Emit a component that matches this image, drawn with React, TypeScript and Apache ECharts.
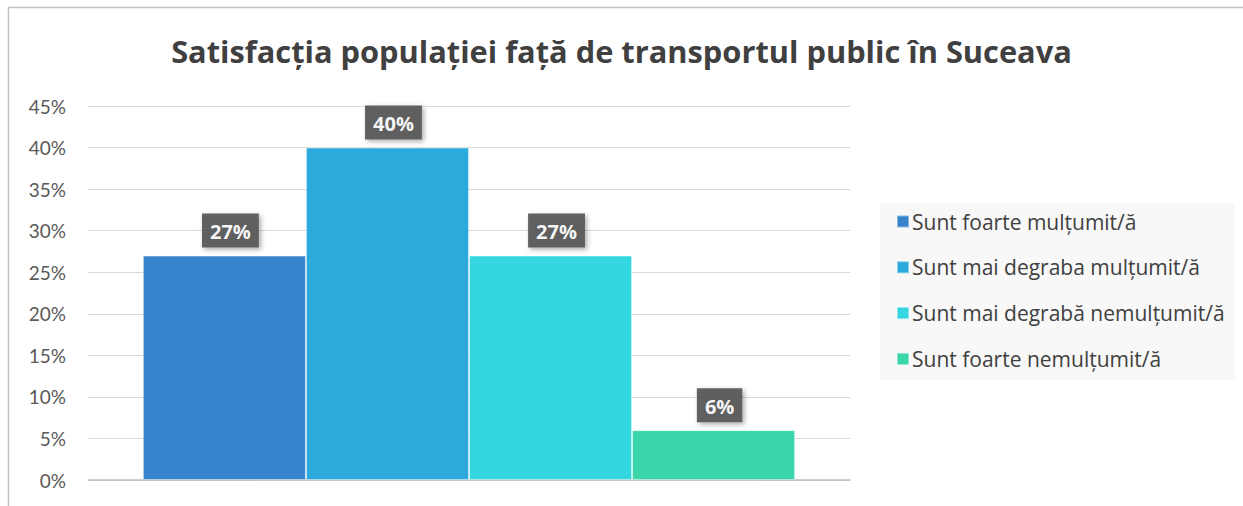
import React, { useEffect, useRef } from "react";
import * as echarts from "echarts";

const categories = ["Satisfacția"];
const seriesNames = [
  "Sunt foarte mulțumit/ă",
  "Sunt mai degraba mulțumit/ă",
  "Sunt mai degrabă nemulțumit/ă",
  "Sunt foarte nemulțumit/ă",
];
const seriesValues = [27, 40, 27, 6];
const seriesColors = ["#2a7cc9", "#1fa5da", "#27d4de", "#2ed3a4"];
const yTicks = { min: 0, max: 45, interval: 5 };

const FONT = "Lato, 'Open Sans', sans-serif";
const FONT2 = "'Open Sans', sans-serif";

export default function App() {
  const ref = useRef<HTMLDivElement>(null);
  useEffect(() => {
    document.body.style.margin = "0";
    const chart = echarts.init(ref.current!, null, { renderer: "svg" });
    chart.setOption({
      animation: false,
      backgroundColor: "#ffffff",
      textStyle: { fontFamily: FONT },
      title: {
        text: "Satisfacția populației față de transportul public în Suceava",
        left: "center",
        top: 30,
        textStyle: { fontSize: 30.8, fontWeight: "bold", color: "#404040", fontFamily: FONT2 },
      },
      graphic: [
        {
          type: "polyline",
          shape: { points: [[8.5, 506], [8.5, 7.5], [1243, 7.5]] },
          style: { stroke: "#c4c4c4", lineWidth: 1.5, fill: "none" },
          z: 10,
        },
        {
          type: "rect",
          shape: { x: 880, y: 203, width: 355, height: 177 },
          style: { fill: "#f8f8f8" },
          z: 0,
        },
      ],
      legend: {
        orient: "vertical",
        left: 891,
        top: 206,
        itemWidth: 12,
        itemHeight: 12,
        itemGap: 24.8,
        icon: "rect",
        textStyle: { fontSize: 21, color: "#404040", fontFamily: FONT2, padding: [0, 0, 0, -2] },
        data: seriesNames,
      },
      grid: { left: 88, right: 393, top: 106, bottom: 26, containLabel: false },
      xAxis: {
        type: "category",
        data: categories,
        axisLine: { show: true, lineStyle: { color: "#bfbfbf", width: 1.5 } },
        axisTick: { show: false },
        axisLabel: { show: false },
      },
      yAxis: {
        type: "value",
        min: yTicks.min,
        max: yTicks.max,
        interval: yTicks.interval,
        axisLine: { show: false },
        axisTick: { show: false },
        axisLabel: { formatter: "{value}%", fontSize: 19, color: "#595959", margin: 22, fontFamily: FONT },
        splitLine: { lineStyle: { color: "#d9d9d9", width: 1.2 } },
      },
      series: seriesNames.map((name, i) => ({
        name,
        type: "bar",
        data: [seriesValues[i]],
        barGap: "0%",
        barCategoryGap: "14.4%",
        itemStyle: {
          color: seriesColors[i],
          opacity: 0.94,
          borderColor: "rgba(255,255,255,0.45)",
          borderWidth: 1,
        },
        label: {
          show: true,
          position: "top",
          distance: 8,
          offset: [6, 0],
          formatter: "{c}%",
          color: "#ffffff",
          fontWeight: "bold",
          fontSize: 20,
          fontFamily: FONT2,
          backgroundColor: "#595959",
          padding: [8, 8, 6, 8],
          shadowColor: "rgba(0,0,0,0.35)",
          shadowBlur: 5,
          shadowOffsetX: 2,
          shadowOffsetY: 2,
        },
      })),
    });
    return () => chart.dispose();
  }, []);
  return <div ref={ref} style={{ width: 1243, height: 506 }} />;
}
